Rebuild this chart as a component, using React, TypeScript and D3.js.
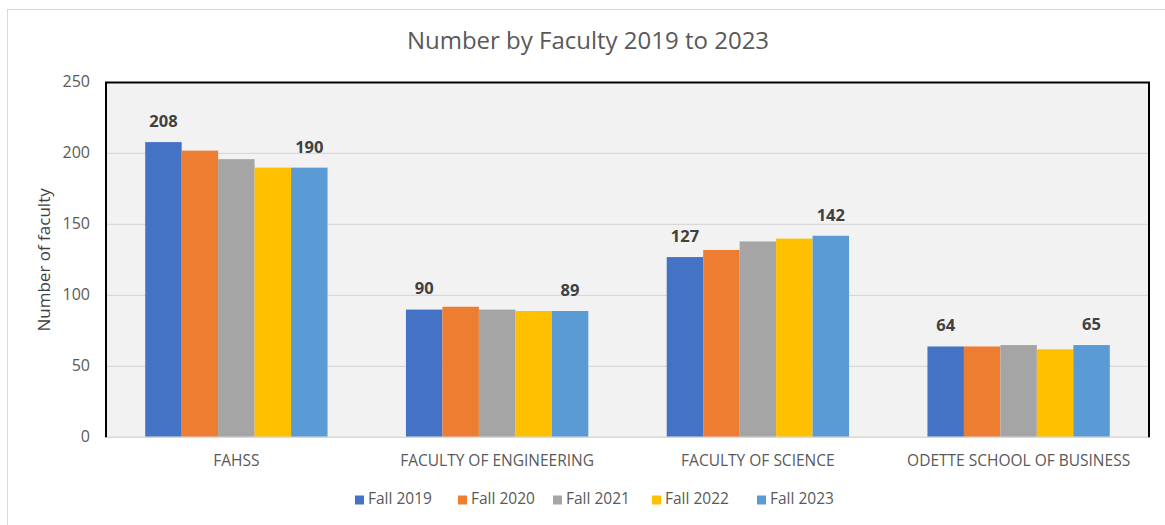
import React from "react";
import * as d3 from "d3";

const categories = ["FAHSS", "FACULTY OF ENGINEERING", "FACULTY OF SCIENCE", "ODETTE SCHOOL OF BUSINESS"];
const seriesNames = ["Fall 2019", "Fall 2020", "Fall 2021", "Fall 2022", "Fall 2023"];
const fall2019 = [208, 90, 127, 64];
const fall2020 = [202, 92, 132, 64];
const fall2021 = [196, 90, 138, 65];
const fall2022 = [190, 89, 140, 62];
const fall2023 = [190, 89, 142, 65];
const seriesValues = [fall2019, fall2020, fall2021, fall2022, fall2023];
const colors = ["#4472c4", "#ed7d31", "#a5a5a5", "#ffc000", "#5b9bd5"];
const yTicks = [0, 50, 100, 150, 200, 250];
const labeledSeries = [0, 4];

const W = 1165;
const H = 525;
const plot = { left: 106, right: 1149, top: 82.5, bottom: 437.3 };
const font = "'Open Sans', 'Noto Sans', sans-serif";

export default function App() {
  const x0 = d3.scaleBand<string>().domain(categories).range([plot.left, plot.right]).paddingInner(0).paddingOuter(0);
  const y = d3.scaleLinear().domain([0, 250]).range([plot.bottom, plot.top]);
  const groupW = x0.bandwidth() / 1.43;
  const x1 = d3
    .scaleBand<number>()
    .domain(d3.range(seriesNames.length))
    .range([(x0.bandwidth() - groupW) / 2, (x0.bandwidth() + groupW) / 2]);

  const legendX = [355, 458, 553, 652, 757];

  return (
    <svg width={W} height={H} style={{ position: "absolute", left: 0, top: 0, display: "block" }}>
      <rect x={0} y={0} width={W} height={H} fill="#ffffff" />
      <rect x={7.5} y={9.5} width={W + 10} height={H + 10} fill="#ffffff" stroke="#d9d9d9" strokeWidth={1} />
      <text x={588} y={43} textAnchor="middle" dominantBaseline="middle" fontFamily={font} fontSize={24} fill="#595959">
        Number by Faculty 2019 to 2023
      </text>
      <rect x={plot.left} y={plot.top} width={plot.right - plot.left} height={plot.bottom - plot.top} fill="#f2f2f2" />
      {yTicks.slice(1, -1).map((t) => (
        <line key={t} x1={plot.left} x2={plot.right} y1={y(t)} y2={y(t)} stroke="#d9d9d9" strokeWidth={1.2} />
      ))}
      {categories.map((c, ci) => (
        <g key={c} transform={`translate(${x0(c)},0)`}>
          {seriesValues.map((vals, si) => (
            <rect
              key={si}
              x={x1(si)}
              y={y(vals[ci])}
              width={x1.bandwidth()}
              height={y(0) - y(vals[ci])}
              fill={colors[si]}
            />
          ))}
          {labeledSeries.map((si) => (
            <text
              key={"l" + si}
              x={(x1(si) as number) + x1.bandwidth() / 2}
              y={y(seriesValues[si][ci]) - 19.5}
              textAnchor="middle"
              dominantBaseline="middle"
              fontFamily={font}
              fontSize={16.5}
              fontWeight="bold"
              fill="#404040"
            >
              {seriesValues[si][ci]}
            </text>
          ))}
        </g>
      ))}
      <line x1={plot.left} x2={plot.right} y1={plot.bottom} y2={plot.bottom} stroke="#d9d9d9" strokeWidth={1.5} />
      <path
        d={`M${plot.left},${plot.bottom} V${plot.top} H${plot.right} V${plot.bottom}`}
        fill="none"
        stroke="#000000"
        strokeWidth={2}
      />
      {yTicks.map((t) => (
        <text key={t} x={90} y={y(t)} textAnchor="end" dominantBaseline="middle" fontFamily={font} fontSize={16} fill="#595959">
          {t}
        </text>
      ))}
      <text
        transform={`translate(45,${(plot.top + plot.bottom) / 2 + 0}) rotate(-90)`}
        textAnchor="middle"
        dominantBaseline="middle"
        fontFamily={font}
        fontSize={17}
        fill="#404040"
      >
        Number of faculty
      </text>
      {categories.map((c) => (
        <text
          key={c}
          x={(x0(c) as number) + x0.bandwidth() / 2}
          y={462}
          textAnchor="middle"
          dominantBaseline="middle"
          fontFamily={font}
          fontSize={15.5}
          fill="#595959"
        >
          {c}
        </text>
      ))}
      {seriesNames.map((s, i) => (
        <g key={s} transform={`translate(${legendX[i]},500)`}>
          <rect x={0} y={-4.5} width={9} height={9} fill={colors[i]} />
          <text x={13} y={0} dominantBaseline="middle" fontFamily={font} fontSize={15.5} fill="#595959">
            {s}
          </text>
        </g>
      ))}
    </svg>
  );
}
